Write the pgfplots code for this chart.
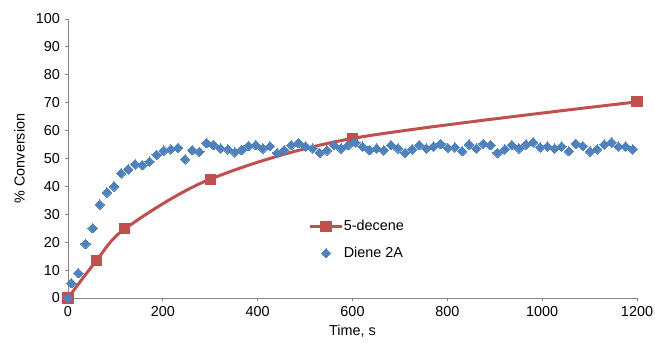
\documentclass[border=0pt]{standalone}
\usepackage{fontspec}
\setmainfont{Liberation Sans}
\usepackage{pgfplots}
\pgfplotsset{compat=1.18}
\definecolor{exred}{RGB}{192,80,77}
\definecolor{exblue}{RGB}{79,129,189}
\definecolor{axgray}{RGB}{134,134,134}
\pgfplotsset{
  redleg/.style={legend image code/.code={\draw[##1, mark repeat=2, mark phase=2] plot coordinates {(0cm,0cm) (0.41cm,0cm) (0.82cm,0cm)};}},
  blueleg/.style={legend image code/.code={\draw[##1] plot coordinates {(0.41cm,0cm)};}}
}
\begin{document}
\begin{tikzpicture}
\begin{axis}[name=ax, scale only axis, width=426.75pt, height=209.25pt,
  xmin=0, xmax=1200, ymin=0, ymax=100,
  axis lines*=left,
  axis line style={axgray, line width=0.75pt},
  xtick={0,200,...,1200}, ytick={0,10,...,100},
  tick style={axgray, line width=0.75pt},
  tick align=outside, major tick length=2.6pt,
  font=\fontsize{10.8}{13}\selectfont,
  /pgf/number format/assume math mode=true,
  /pgf/number format/1000 sep={},
  xlabel={Time, s}, ylabel={\% Conversion},
  ylabel style={yshift=1.5pt},
  clip=false,
  legend style={draw=none, fill=none, at={(0.416,0.208)}, anchor=west, row sep=9.5pt,
    font=\fontsize{10.8}{13}\selectfont, nodes={inner sep=0.5pt}},
  legend cell align=left]
\addplot[exred, line width=2.25pt, smooth, mark=square*, mark size=3.8pt, mark options={solid, line width=0pt}, redleg]
coordinates {(0,0) (60,13.4) (120,24.8) (300,42.6) (600,57.2) (1200,70.3)};
\addlegendentry{5-decene}
\addplot[only marks, mark=square*, mark size=2.5pt, color=exblue, mark options={rotate=45, line width=0pt}, blueleg]
coordinates {
(0,0) (7,5.3) (22,8.9) (37,19.4) (52,25) (67,33.5) (82,37.8) (97,40) (112,44.7) (127,46.1)
(142,47.9) (157,47.6) (172,48.9) (187,51.3) (202,52.8) (217,53.3) (232,53.8) (247,49.7) (262,53) (277,52.4)
(292,55.5) (307,54.8) (322,53.6) (337,53.3) (352,52.2) (366,53) (381,54.5) (396,54.8) (411,53.6) (426,54.4)
(441,52) (456,53) (471,54.8) (486,55.5) (501,54.3) (516,53.6) (531,52) (546,52.9) (561,54.8) (576,53.6)
(591,54.8) (606,55.8) (621,54.3) (636,53) (651,53.6) (666,52.9) (681,54.8) (696,53.6) (711,52) (726,53.3)
(741,54.8) (756,53.6) (771,54.3) (786,55.2) (801,53.8) (816,54) (831,52.6) (846,55) (861,53.6) (876,55.3)
(891,54.8) (906,52) (921,53.3) (936,54.8) (951,53.6) (966,55) (981,55.8) (996,54) (1011,54.3) (1026,53.6)
(1041,54.3) (1056,52.6) (1071,55.3) (1086,54.4) (1101,52.5) (1116,53.3) (1131,55) (1146,55.8) (1161,54.3) (1176,54.3)
(1191,53.3)
};
\addlegendentry{Diene 2A}
\end{axis}
\pgfresetboundingbox
\path ([xshift=-51pt,yshift=-34.5pt]ax.south west) rectangle ([xshift=13.5pt,yshift=14.25pt]ax.north east);
\end{tikzpicture}
\end{document}
